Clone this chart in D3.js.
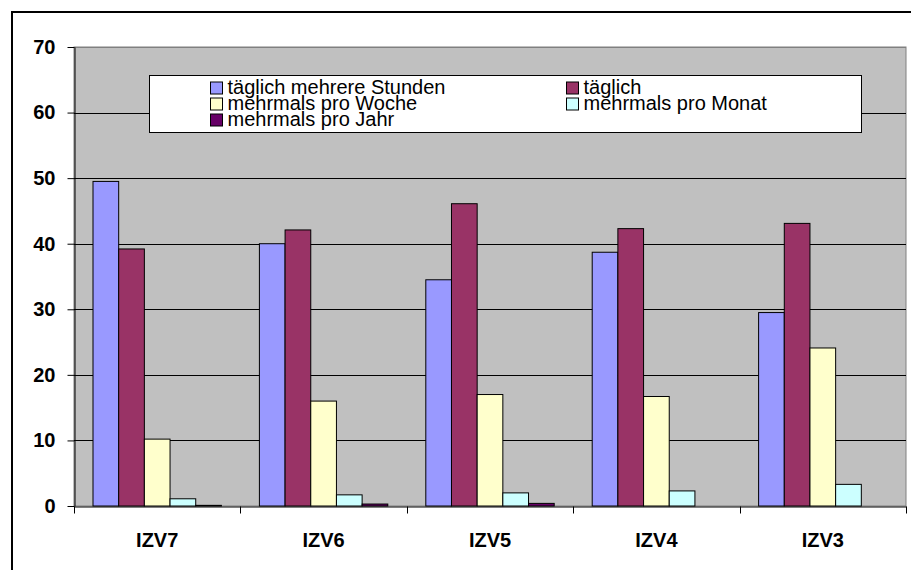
<!DOCTYPE html>
<html>
<head>
<meta charset="utf-8">
<script src="https://cdn.jsdelivr.net/npm/d3@7"></script>
<style>
  body { margin: 0; background: #fff; }
  text { font-family: "Liberation Sans", Arial, sans-serif; }
</style>
</head>
<body>
<script>
var categories = ["IZV7", "IZV6", "IZV5", "IZV4", "IZV3"];
var seriesNames = ["täglich mehrere Stunden", "täglich", "mehrmals pro Woche", "mehrmals pro Monat", "mehrmals pro Jahr"];
var seriesColors = ["#9999FF", "#993366", "#FFFFCC", "#CCFFFF", "#660066"];
var values = [
    [49.5, 40.0, 34.5, 38.7, 29.5],
    [39.2, 42.1, 46.1, 42.3, 43.1],
    [10.2, 16.0, 17.0, 16.7, 24.1],
    [1.1, 1.7, 2.0, 2.3, 3.3],
    [0.1, 0.3, 0.4, 0, 0]
];
var yTicks = [0, 10, 20, 30, 40, 50, 60, 70];

var svgWidth = 911;
var svgHeight = 570;

var margin = { top: 47, right: 5, bottom: 64, left: 74 };
var chartWidth = svgWidth - margin.left - margin.right;
var chartHeight = svgHeight - margin.top - margin.bottom;

var svg = d3.select("body")
    .append("svg")
    .attr("width", svgWidth)
    .attr("height", svgHeight);

// outer frame
svg.append("rect")
    .attr("x", 12).attr("y", 12)
    .attr("width", 920).attr("height", 600)
    .attr("fill", "none")
    .attr("stroke", "#000")
    .attr("stroke-width", 2);

var chartGroup = svg.append("g")
    .attr("transform", `translate(${margin.left}, ${margin.top})`);

var x0 = d3.scaleBand()
    .domain(categories)
    .range([0, chartWidth])
    .padding(0);

var x1 = d3.scaleBand()
    .domain(d3.range(seriesNames.length))
    .range([0, x0.bandwidth()])
    .paddingInner(0)
    .paddingOuter(0.74);

var y = d3.scaleLinear()
    .domain([0, 70])
    .range([chartHeight, 0]);

chartGroup.append("rect")
    .attr("width", chartWidth)
    .attr("height", chartHeight)
    .attr("fill", "#C0C0C0")
    .attr("stroke", "#808080");

// gridlines
chartGroup.selectAll(".grid")
    .data(yTicks.slice(1))
    .enter().append("line")
    .attr("x1", 0).attr("x2", chartWidth)
    .attr("y1", d => Math.round(y(d)) + 0.5)
    .attr("y2", d => Math.round(y(d)) + 0.5)
    .attr("stroke", d => d === 70 ? "#808080" : "#000");

// bars
var groups = chartGroup.selectAll(".cat")
    .data(categories)
    .enter().append("g")
    .attr("transform", d => `translate(${x0(d)}, 0)`);

groups.selectAll("rect")
    .data((c, ci) => values.map((s, si) => ({ si: si, v: s[ci] })))
    .enter().append("rect")
    .filter(d => d.v > 0)
    .attr("x", d => x1(d.si))
    .attr("y", d => y(d.v))
    .attr("width", x1.bandwidth())
    .attr("height", d => y(0) - y(d.v))
    .attr("fill", d => seriesColors[d.si])
    .attr("stroke", "#000")
    .attr("stroke-width", 1);

// axes
var leftAxis = d3.axisLeft(y).tickValues(yTicks).tickSize(7).tickSizeOuter(0);
var bottomAxis = d3.axisBottom(x0).tickSize(0).tickSizeOuter(0);

var yAxisG = chartGroup.append("g")
    .attr("transform", "translate(0.5, 0)")
    .call(leftAxis);
yAxisG.select(".domain").attr("stroke", "#000");
yAxisG.selectAll("text")
    .attr("x", -19)
    .attr("font-size", "20px")
    .attr("font-weight", "bold")
    .attr("font-family", "'Liberation Sans', Arial, sans-serif")
    .attr("fill", "#000");

var xAxisG = chartGroup.append("g")
    .attr("transform", "translate(0, " + (chartHeight + 0.5) + ")")
    .call(bottomAxis);
xAxisG.select(".domain").attr("stroke", "#000");
xAxisG.selectAll("text")
    .attr("y", 26)
    .attr("font-size", "20px")
    .attr("font-weight", "bold")
    .attr("font-family", "'Liberation Sans', Arial, sans-serif")
    .attr("fill", "#000");

// category separator ticks
xAxisG.selectAll(".sep")
    .data(categories.concat(["end"]))
    .enter().append("line")
    .attr("x1", (d, i) => Math.round(i * x0.step()) + 0.5)
    .attr("x2", (d, i) => Math.round(i * x0.step()) + 0.5)
    .attr("y1", 0).attr("y2", 7)
    .attr("stroke", "#000");

// legend
var legend = svg.append("g").attr("transform", "translate(149.5, 75.5)");
legend.append("rect")
    .attr("width", 712).attr("height", 57)
    .attr("fill", "#fff")
    .attr("stroke", "#000");

var legendCols = [61, 417];
var legendRows = [18.5, 34.5, 50.5];
var items = legend.selectAll(".item")
    .data(seriesNames)
    .enter().append("g")
    .attr("transform", (d, i) => `translate(${legendCols[i % 2]}, ${legendRows[Math.floor(i / 2)]})`);

items.append("rect")
    .attr("x", 0).attr("y", -12)
    .attr("width", 12).attr("height", 12)
    .attr("fill", (d, i) => seriesColors[i])
    .attr("stroke", "#000");

items.append("text")
    .attr("x", 17)
    .attr("y", 0)
    .attr("font-size", "20px")
    .attr("fill", "#000")
    .text(d => d);
</script>
</body>
</html>
